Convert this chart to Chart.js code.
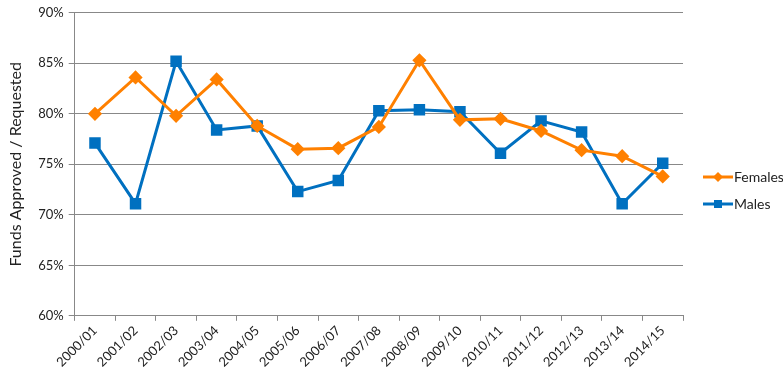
<!DOCTYPE html>
<html>
<head>
<meta charset="utf-8">
<script src="https://cdn.jsdelivr.net/npm/chart.js@4/dist/chart.umd.min.js"></script>
<style>
  html, body { margin: 0; padding: 0; background: #fff; }
  #wrap { width: 783px; height: 384px; }
</style>
</head>
<body>
<div id="wrap"><canvas id="fundsChart"></canvas></div>
<script>
'use strict';

// chart values (percent)
const years = ['2000/01', '2001/02', '2002/03', '2003/04', '2004/05', '2005/06', '2006/07', '2007/08',
               '2008/09', '2009/10', '2010/11', '2011/12', '2012/13', '2013/14', '2014/15'];
const females = [80.0, 83.6, 79.8, 83.4, 78.8, 76.5, 76.6, 78.7, 85.3, 79.4, 79.5, 78.3, 76.4, 75.8, 73.8];
const males = [77.1, 71.1, 85.2, 78.4, 78.8, 72.3, 73.4, 80.3, 80.4, 80.2, 76.1, 79.3, 78.2, 71.1, 75.1];
const yTicks = [60, 65, 70, 75, 80, 85, 90];

const orange = '#FF8000';
const blue = '#0070C0';
const font = 'Lato';

// legend drawn as line + marker, like the original
const sideLegend = {
    id: 'sideLegend',
    afterDraw(chart) {
        const ctx = chart.ctx;
        const items = chart.data.datasets;
        ctx.save();
        items.forEach((ds, i) => {
            const y = 177 + i * 27;
            const x0 = 703, x1 = 733;
            ctx.strokeStyle = ds.borderColor;
            ctx.lineWidth = 3;
            ctx.beginPath();
            ctx.moveTo(x0, y);
            ctx.lineTo(x1, y);
            ctx.stroke();
            ctx.fillStyle = ds.borderColor;
            const mx = (x0 + x1) / 2;
            if (ds.pointStyle === 'rect') {
                ctx.fillRect(mx - 4, y - 4, 8, 8);
            } else {
                ctx.beginPath();
                ctx.moveTo(mx, y - 5);
                ctx.lineTo(mx + 5, y);
                ctx.lineTo(mx, y + 5);
                ctx.lineTo(mx - 5, y);
                ctx.closePath();
                ctx.fill();
            }
            ctx.fillStyle = '#222';
            ctx.font = '14px "' + font + '"';
            ctx.textBaseline = 'middle';
            ctx.fillText(ds.label, x1 + 1, y);
        });
        ctx.restore();
    }
};

const ctx = document.getElementById('fundsChart');
const fundsChart = new Chart(ctx, {
    type: 'line',
    data: {
        labels: years,
        datasets: [{
            label: 'Females',
            data: females,
            borderColor: orange,
            backgroundColor: orange,
            borderWidth: 3,
            pointStyle: 'rectRot',
            pointRadius: 5,
            pointHoverRadius: 5,
            tension: 0
        }, {
            label: 'Males',
            data: males,
            borderColor: blue,
            backgroundColor: blue,
            borderWidth: 3,
            pointStyle: 'rect',
            pointRadius: 6,
            pointHoverRadius: 6,
            tension: 0
        }]
    },
    options: {
        responsive: true,
        maintainAspectRatio: false,
        animation: false,
        layout: { padding: { top: 11, right: 100, left: 6, bottom: 12 } },
        plugins: {
            legend: { display: false },
            tooltip: { enabled: false }
        },
        scales: {
            x: {
                offset: true,
                grid: {
                    offset: true,
                    drawOnChartArea: false,
                    drawTicks: true,
                    tickLength: 5,
                    color: '#888'
                },
                border: { display: true, color: '#888', width: 1 },
                ticks: {
                    minRotation: 45,
                    maxRotation: 45,
                    color: '#222',
                    font: { family: font, size: 13 },
                    padding: 2
                }
            },
            y: {
                min: 60,
                max: 90,
                afterBuildTicks: axis => {
                    axis.ticks = yTicks.map(v => ({ value: v }));
                },
                grid: {
                    color: '#888',
                    lineWidth: 1,
                    tickLength: 6
                },
                border: { display: true, color: '#888', width: 1 },
                ticks: {
                    color: '#222',
                    font: { family: font, size: 13 },
                    padding: 5,
                    callback: v => v + '%'
                },
                title: {
                    display: true,
                    text: 'Funds Approved / Requested',
                    color: '#222',
                    font: { family: font, size: 16 },
                    padding: { top: 0, bottom: 8 }
                }
            }
        }
    },
    plugins: [sideLegend]
});
</script>
</body>
</html>
